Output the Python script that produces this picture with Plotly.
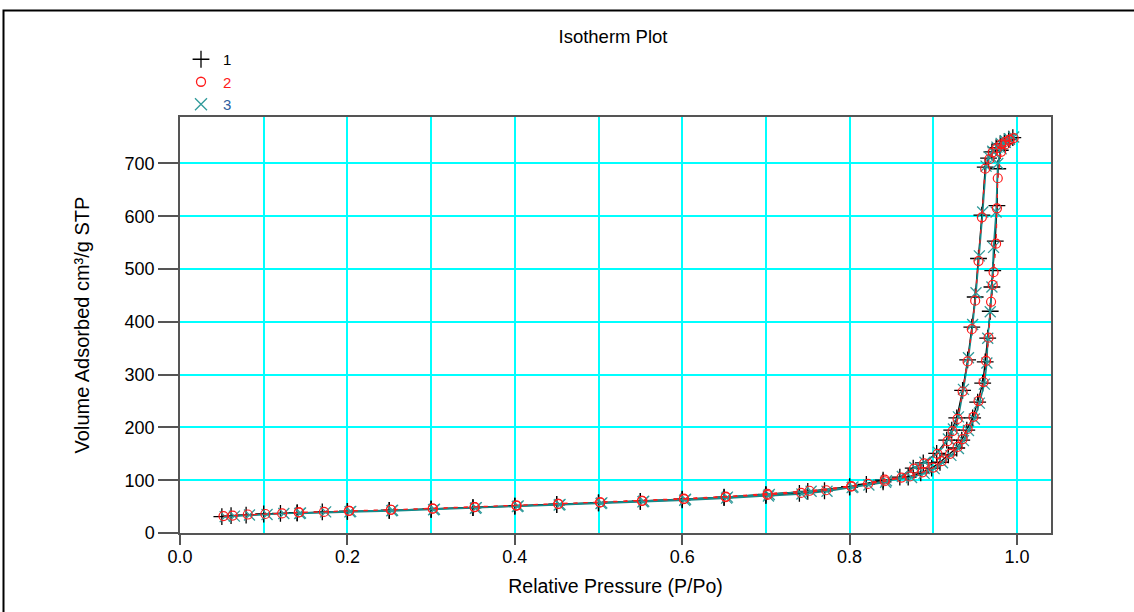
import plotly.graph_objects as go

# ---------------- data ----------------
# Series 1 (+)
s1_x = [0.050, 0.061, 0.079, 0.100, 0.120, 0.140, 0.170, 0.200, 0.250, 0.300,
        0.350, 0.400, 0.450, 0.500, 0.550, 0.600, 0.650, 0.700, 0.750, 0.800,
        0.840, 0.870, 0.885, 0.898, 0.908, 0.918, 0.928, 0.934, 0.940, 0.947,
        0.953, 0.959, 0.962, 0.965, 0.968, 0.970, 0.971, 0.974, 0.976, 0.977,
        0.980, 0.985, 0.990, 0.995,
        0.990, 0.985, 0.980, 0.975, 0.970, 0.966, 0.962, 0.958, 0.954, 0.950,
        0.946, 0.941, 0.935, 0.928, 0.922, 0.916, 0.904, 0.888, 0.876, 0.860,
        0.840, 0.820, 0.800, 0.770, 0.740, 0.700, 0.650, 0.600, 0.550, 0.500,
        0.450, 0.400, 0.350, 0.300, 0.250, 0.200, 0.140]
s1_y = [31, 33, 34, 36, 37, 38, 40, 41, 43, 45,
        48, 51, 54, 57, 60, 64, 68, 73, 79, 88,
        100, 106, 114, 123, 134, 148, 161, 176, 195, 218,
        248, 284, 324, 369, 420, 466, 497, 553, 620, 690,
        725, 738, 745, 749,
        746, 742, 737, 730, 722, 710, 693, 602, 520, 447,
        390, 328, 270, 218, 195, 176, 151, 133, 123, 106,
        97, 92, 87, 80, 75, 71, 67, 63, 60, 57,
        54, 51, 48, 45, 43, 41, 38]

# Series 2 (o)
s2_x = [0.052, 0.063, 0.081, 0.102, 0.122, 0.142, 0.172, 0.202, 0.252, 0.302,
        0.352, 0.402, 0.452, 0.502, 0.552, 0.602, 0.652, 0.702, 0.752, 0.802,
        0.842, 0.872, 0.887, 0.900, 0.910, 0.920, 0.929, 0.935, 0.941, 0.948,
        0.954, 0.960, 0.963, 0.966, 0.969, 0.971, 0.972, 0.975, 0.976, 0.977,
        0.981, 0.986, 0.991, 0.996,
        0.991, 0.986, 0.981, 0.976, 0.971, 0.967, 0.962, 0.958, 0.954, 0.950,
        0.946, 0.941, 0.935, 0.929, 0.923, 0.917, 0.905, 0.889, 0.877, 0.862,
        0.842, 0.822, 0.802, 0.772, 0.742, 0.702, 0.652, 0.602, 0.552, 0.502,
        0.452, 0.402, 0.352, 0.302, 0.252, 0.202, 0.142]
s2_y = [32, 33, 35, 36, 37, 39, 40, 42, 44, 46,
        49, 52, 55, 58, 61, 65, 69, 74, 80, 89,
        101, 107, 115, 124, 136, 150, 163, 178, 197, 220,
        250, 286, 326, 370, 438, 470, 494, 548, 615, 672,
        722, 736, 744, 748,
        745, 741, 736, 729, 721, 708, 690, 598, 515, 440,
        386, 325, 268, 216, 193, 174, 150, 132, 122, 105,
        98, 93, 88, 81, 76, 72, 68, 64, 61, 58,
        55, 52, 49, 46, 44, 42, 39]

# Series 3 (x)
s3_x = [0.054, 0.065, 0.083, 0.104, 0.124, 0.144, 0.174, 0.204, 0.254, 0.304,
        0.354, 0.404, 0.454, 0.504, 0.554, 0.604, 0.654, 0.704, 0.754, 0.804,
        0.844, 0.874, 0.889, 0.901, 0.911, 0.921, 0.930, 0.936, 0.942, 0.949,
        0.955, 0.961, 0.964, 0.965, 0.968, 0.970, 0.972, 0.975, 0.977,
        0.981, 0.986, 0.991, 0.996,
        0.991, 0.986, 0.981, 0.976, 0.971, 0.967, 0.963, 0.959, 0.955, 0.951,
        0.947, 0.942, 0.936, 0.930, 0.924, 0.918, 0.906, 0.890, 0.878, 0.863,
        0.843, 0.823, 0.803, 0.773, 0.743, 0.703, 0.653, 0.603, 0.553, 0.503,
        0.453, 0.403, 0.353, 0.303, 0.253, 0.203, 0.143]
s3_y = [31, 32, 34, 35, 37, 38, 40, 41, 43, 45,
        48, 51, 54, 57, 60, 64, 68, 73, 79, 87,
        99, 105, 113, 122, 133, 147, 160, 175, 194, 216,
        246, 282, 322, 369, 419, 466, 541, 608, 700,
        728, 740, 746, 750,
        747, 743, 738, 731, 723, 712, 695, 608, 525, 455,
        395, 332, 272, 220, 197, 178, 153, 134, 124, 107,
        96, 91, 86, 79, 74, 70, 66, 62, 59, 56,
        53, 50, 47, 44, 42, 40, 37]

series_names = ["1", "2", "3"]
x_ticks = [0.0, 0.2, 0.4, 0.6, 0.8, 1.0]
x_tick_text = ["0.0", "0.2", "0.4", "0.6", "0.8", "1.0"]
y_ticks = [0, 100, 200, 300, 400, 500, 600, 700]

# ---------------- layout geometry (pixels) ----------------
W, H = 1134, 612
L, R, T, B = 180, 1051, 117, 533
PW, PH = R - L, B - T


def px(xp):
    return (xp - L) / PW


def py(yp):
    return (B - yp) / PH


FONT = "Liberation Sans, Arial, sans-serif"
TEAL = "#138a8a"
TEAL_M = "#2f9a9a"
RED = "#ff1a1a"
AX = "#555555"
GRID = "#00ffff"

fig = go.Figure()

# data traces
fig.add_trace(go.Scatter(x=s1_x, y=s1_y, mode="lines+markers", name=series_names[0],
                         line=dict(color="#000000", width=1.3),
                         marker=dict(symbol="cross-thin-open", size=12, color="#000000",
                                     line=dict(color="#000000", width=1.3)),
                         showlegend=False))
fig.add_trace(go.Scatter(x=s3_x, y=s3_y, mode="lines+markers", name=series_names[2],
                         line=dict(color=TEAL, width=1.6),
                         marker=dict(symbol="x-thin-open", size=11, color=TEAL_M,
                                     line=dict(color=TEAL_M, width=1.3)),
                         showlegend=False))
fig.add_trace(go.Scatter(x=s2_x, y=s2_y, mode="lines+markers", name=series_names[1],
                         line=dict(color=RED, width=1.3, dash="4px,6px"),
                         marker=dict(symbol="circle-open", size=9, color=RED,
                                     line=dict(color=RED, width=1.2)),
                         showlegend=False))

# legend entries (marker only)
leg_sym = ["cross-thin-open", "circle-open", "x-thin-open"]
leg_col = ["#000000", RED, TEAL_M]
leg_txt_col = ["#000000", RED, "#2f5fa0"]
leg_size = [12, 9, 12]
for i in range(3):
    fig.add_trace(go.Scatter(x=[None], y=[None], mode="markers",
                             name="<span style='color:%s'>%s</span>" % (leg_txt_col[i], series_names[i]),
                             legendgroup="g%d" % i, showlegend=True, hoverinfo="skip",
                             marker=dict(symbol=leg_sym[i], size=leg_size[i], color=leg_col[i],
                                         line=dict(color=leg_col[i], width=1.3))))

# grid-only overlay axis (every 0.1)
fig.add_trace(go.Scatter(x=[None], y=[None], xaxis="x2", showlegend=False, hoverinfo="skip"))

fig.update_layout(
    width=W, height=H,
    margin=dict(l=L, r=W - R, t=T, b=H - B, pad=0),
    paper_bgcolor="white", plot_bgcolor="white",
    showlegend=True,
    legend=dict(x=px(179), y=py(43), xanchor="left", yanchor="top",
                bgcolor="rgba(0,0,0,0)", borderwidth=0, tracegroupgap=0,
                itemwidth=34, font=dict(family=FONT, size=15),
                traceorder="grouped"),
    title=dict(text="Isotherm Plot", x=px(613), xref="paper", xanchor="center",
               y=1 - 37 / H, yref="container", yanchor="middle",
               font=dict(family=FONT, size=18.5, color="#000000")),
    font=dict(family=FONT, color="#000000"),
    xaxis=dict(range=[0, 1.0406], tickvals=x_ticks, ticktext=x_tick_text,
               ticks="outside", ticklen=10, tickcolor=AX, tickwidth=1.5,
               showline=True, linecolor=AX, linewidth=1.5, mirror=True,
               showgrid=False, zeroline=False, ticklabelstandoff=-3,
               tickfont=dict(family=FONT, size=18),
               title=dict(text="Relative Pressure (P/Po)", standoff=13,
                          font=dict(family=FONT, size=19.5))),
    xaxis2=dict(range=[0, 1.0406], overlaying="x", anchor="y", dtick=0.1, tick0=0,
                showgrid=True, gridcolor=GRID, gridwidth=2,
                showticklabels=False, ticks="", showline=False, zeroline=False,
                layer="below traces"),
    yaxis=dict(range=[0, 788], tickvals=y_ticks,
               ticks="outside", ticklen=20, tickcolor=AX, tickwidth=1.5,
               showline=True, linecolor=AX, linewidth=1.5, mirror=True,
               showgrid=True, gridcolor=GRID, gridwidth=2, zeroline=False,
               tickfont=dict(family=FONT, size=18),
               title=dict(text="Volume Adsorbed cm³/g STP", standoff=30,
                          font=dict(family=FONT, size=20))),
    shapes=[dict(type="rect", xref="paper", yref="paper",
                 x0=px(3.5), x1=px(W + 20), y0=py(10.5), y1=py(H + 20),
                 line=dict(color="#000000", width=2), fillcolor="rgba(0,0,0,0)",
                 layer="below")],
)

fig.write_html("out.html", post_script="document.body.style.margin='0';",
               config={"displayModeBar": False})
